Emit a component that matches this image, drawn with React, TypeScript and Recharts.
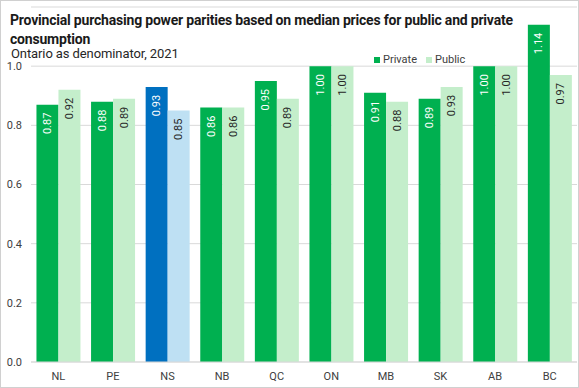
import React from "react";
import { BarChart, Bar, XAxis, YAxis, CartesianGrid, Cell } from "recharts";

const provinces = ["NL", "PE", "NS", "NB", "QC", "ON", "MB", "SK", "AB", "BC"];
const privateValues = [0.87, 0.88, 0.93, 0.86, 0.95, 1.0, 0.91, 0.89, 1.0, 1.14];
const publicValues = [0.92, 0.89, 0.85, 0.86, 0.89, 1.0, 0.88, 0.93, 1.0, 0.97];
const yTicks = [0, 0.2, 0.4, 0.6, 0.8, 1.0];
const highlight = "NS";

const data = provinces.map((p, i) => ({ name: p, priv: privateValues[i], pub: publicValues[i] }));

const GREEN = "#00B050";
const LIGHT_GREEN = "#C4EECB";
const BLUE = "#0070C0";
const LIGHT_BLUE = "#BEE0F3";
const FONT = "Roboto, 'Noto Sans', sans-serif";

const makeLabel = (color: string) => (props: any) => {
  const { x, y, width, value } = props;
  const cx = Number(x) + Number(width) / 2;
  const ty = Number(y) + 8;
  return (
    <text
      x={cx}
      y={ty}
      transform={`rotate(-90 ${cx} ${ty})`}
      textAnchor="end"
      dominantBaseline="central"
      fill={color}
      fontSize={11}
      fontFamily={FONT}
    >
      {Number(value).toFixed(2)}
    </text>
  );
};

export default function App() {
  return (
    <div
      style={{
        position: "absolute",
        left: 0,
        top: 0,
        width: 579,
        height: 388,
        boxSizing: "border-box",
        border: "1px solid #D0D0D0",
        background: "#fff",
        overflow: "hidden",
      }}
    >
      <BarChart
        width={577}
        height={386}
        data={data}
        margin={{ top: 6, right: 1, bottom: 0, left: 0 }}
        barCategoryGap="10%"
        barGap={0}
      >
        <CartesianGrid vertical={false} stroke="#D9D9D9" />
        <XAxis
          dataKey="name"
          height={25}
          axisLine={{ stroke: "#D9D9D9" }}
          tickLine={false}
          tick={{ fontSize: 11, fill: "#404040", fontFamily: FONT }}
          tickMargin={4}
        />
        <YAxis
          width={30}
          domain={[0, 1.2]}
          ticks={yTicks}
          axisLine={false}
          tickLine={false}
          tickFormatter={(v: number) => v.toFixed(1)}
          tick={{ fontSize: 11, fill: "#404040", fontFamily: FONT }}
          tickMargin={3}
        />
        <Bar dataKey="priv" name="Private" fill={GREEN} isAnimationActive={false} label={makeLabel("#FFFFFF")}>
          {data.map((d) => (
            <Cell key={d.name} fill={d.name === highlight ? BLUE : GREEN} />
          ))}
        </Bar>
        <Bar dataKey="pub" name="Public" fill={LIGHT_GREEN} isAnimationActive={false} label={makeLabel("#262626")}>
          {data.map((d) => (
            <Cell key={d.name} fill={d.name === highlight ? LIGHT_BLUE : LIGHT_GREEN} />
          ))}
        </Bar>
      </BarChart>
      <div
        style={{
          position: "absolute",
          left: 373,
          top: 52,
          display: "flex",
          alignItems: "center",
          fontFamily: FONT,
          fontSize: 11,
          color: "#404040",
          whiteSpace: "nowrap",
        }}
      >
        <span style={{ width: 6, height: 6, background: GREEN, display: "inline-block", marginRight: 3 }} />
        <span style={{ marginRight: 9 }}>Private</span>
        <span style={{ width: 6, height: 6, background: LIGHT_GREEN, display: "inline-block", marginRight: 3 }} />
        <span>Public</span>
      </div>
      <div
        style={{
          position: "absolute",
          left: 9,
          top: 10,
          width: 540,
          fontFamily: FONT,
          fontWeight: 700,
          fontSize: 14,
          lineHeight: "19px",
          letterSpacing: -0.2,
          color: "#1A1A1A",
        }}
      >
        Provincial purchasing power parities based on median prices for public and private consumption
      </div>
      <div
        style={{
          position: "absolute",
          left: 10,
          top: 47,
          fontFamily: FONT,
          fontSize: 13,
          lineHeight: "12px",
          letterSpacing: -0.1,
          color: "#262626",
        }}
      >
        Ontario as denominator, 2021
      </div>
    </div>
  );
}
